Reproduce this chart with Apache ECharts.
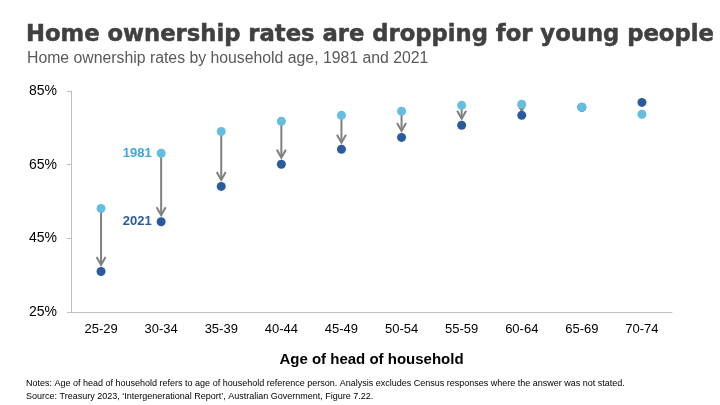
<!DOCTYPE html>
<html>
<head>
<meta charset="utf-8">
<script src="https://cdn.jsdelivr.net/npm/echarts@6/dist/echarts.min.js"></script>
<style>html,body{margin:0;padding:0;background:#fff}#c{width:720px;height:405px}</style>
</head>
<body>
<div id="c"></div>
<script>
var categories = ['25-29','30-34','35-39','40-44','45-49','50-54','55-59','60-64','65-69','70-74'];
var values1981 = [53.1, 68.1, 74.0, 76.8, 78.4, 79.5, 81.1, 81.4, 80.6, 78.7];
var values2021 = [36.0, 49.5, 59.1, 65.1, 69.2, 72.4, 75.7, 78.4, 80.6, 81.9];
var yTicks = [25, 45, 65, 85];
var labelIndex = 1;

var c1981 = '#63BEE0', c2021 = '#2A5B9F', cLabel1981 = '#3BA7D7', cArrow = '#808080';

function withLabel(arr, name, color) {
  return arr.map(function (v, i) {
    if (i !== labelIndex) return v;
    return { value: v, label: { show: true, formatter: name, position: 'left', distance: 5,
      color: color, fontSize: 13, fontWeight: 'bold', fontFamily: 'Liberation Sans' } };
  });
}

var arrowData = [];
categories.forEach(function (c, i) {
  if (values1981[i] - values2021[i] > 1) arrowData.push([i, values1981[i], values2021[i]]);
});

var chart = echarts.init(document.getElementById('c'));
chart.setOption({
  animation: false,
  backgroundColor: '#fff',
  textStyle: { fontFamily: 'Liberation Sans' },
  title: [
    { text: 'Home ownership rates are dropping for young people', left: 21, top: 19,
      textStyle: { fontSize: 22.7, fontWeight: 'bold', color: '#404040', fontFamily: 'DejaVu Sans',
        textBorderColor: '#404040', textBorderWidth: 0.5 } },
    { text: 'Home ownership rates by household age, 1981 and 2021', left: 22, top: 46,
      textStyle: { fontSize: 15.8, fontWeight: 'normal', color: '#595959', fontFamily: 'Liberation Sans' } },
    { text: 'Notes: Age of head of household refers to age of household reference person. Analysis excludes Census responses where the answer was not stated.\nSource: Treasury 2023, \u2018Intergenerational Report\u2019, Australian Government, Figure 7.22.',
      left: 21, top: 372,
      textStyle: { fontSize: 9, fontWeight: 'normal', color: '#000', lineHeight: 13, fontFamily: 'Liberation Sans' } }
  ],
  grid: { left: 71, right: 48, top: 91, bottom: 93 },
  xAxis: {
    type: 'category', data: categories, boundaryGap: true,
    axisLine: { lineStyle: { color: '#BFBFBF', width: 1 } },
    axisTick: { show: false },
    axisLabel: { color: '#000', fontSize: 13, margin: 11 },
    name: 'Age of head of household', nameLocation: 'middle', nameGap: 40,
    nameTextStyle: { color: '#000', fontSize: 15, fontWeight: 'bold' }
  },
  yAxis: {
    type: 'value', min: yTicks[0], max: yTicks[yTicks.length - 1], interval: 20,
    axisLine: { show: true, lineStyle: { color: '#BFBFBF', width: 1 } },
    axisTick: { show: true, length: 4, lineStyle: { color: '#BFBFBF' } },
    splitLine: { show: false },
    axisLabel: { color: '#000', fontSize: 14, margin: 14, formatter: '{value}%' }
  },
  series: [
    {
      type: 'custom', z: 1, data: arrowData,
      renderItem: function (params, api) {
        var x = api.value(0);
        var p1 = api.coord([x, api.value(1)]);
        var p2 = api.coord([x, api.value(2)]);
        var gap = p2[1] - p1[1];
        var tipY = p2[1] - Math.min(6.5, gap * 0.4);
        var head = Math.min(8, gap * 0.45);
        var half = Math.min(4.5, head * 0.6);
        return { type: 'group', children: [
          { type: 'line', shape: { x1: p1[0], y1: p1[1], x2: p1[0], y2: tipY - 0.5 },
            style: { stroke: cArrow, lineWidth: 2 } },
          { type: 'polyline', shape: { points: [[p1[0] - half, tipY - head], [p1[0], tipY], [p1[0] + half, tipY - head]] },
            style: { stroke: cArrow, lineWidth: 2, fill: null } }
        ]};
      }
    },
    { name: '2021', type: 'scatter', z: 3, symbolSize: 9, itemStyle: { color: c2021, opacity: 1 },
      data: withLabel(values2021, '2021', c2021) },
    { name: '1981', type: 'scatter', z: 4, symbolSize: 9, itemStyle: { color: c1981, opacity: 1 },
      data: withLabel(values1981, '1981', cLabel1981) }
  ]
});
</script>
</body>
</html>
